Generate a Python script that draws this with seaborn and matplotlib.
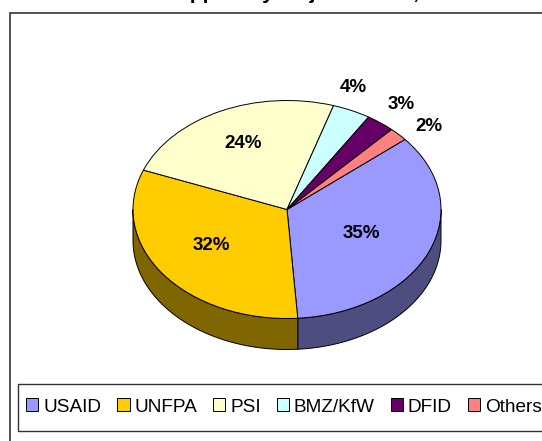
import numpy as np
import pandas as pd
import seaborn as sns
import matplotlib
matplotlib.use("Agg")
import matplotlib.pyplot as plt
from matplotlib.patches import Rectangle

donors = ["USAID", "UNFPA", "PSI", "BMZ/KfW", "DFID", "Others"]
shares = [35, 32, 24, 4, 3, 2]
top_colors = ["#9999FF", "#FFCC00", "#FFFFCC", "#CCFFFF", "#660066", "#FF8080"]
side_colors = ["#4D4D80", "#806600", "#808066", "#668080", "#330033", "#804040"]
title = "Support by major donors,"

sns.set_style("white")
plt.rcParams["font.family"] = ["Liberation Sans", "DejaVu Sans"]
plt.rcParams["text.color"] = "black"

df = pd.DataFrame({"donor": donors, "share": shares})

W, H = 542, 441
cx, cy, rx, ry = 287, 209.5, 154, 109
depth = 31 / ry
start = 40

fig = plt.figure(figsize=(W / 100, H / 100), dpi=100)
ax = fig.add_axes([0, 0, 1, 1])

# frame around the chart, runs off the right side
ax.add_patch(Rectangle((9.5 / W, -0.1), 1, 1 - 12.5 / H + 0.1, transform=ax.transAxes,
                       fc="white", ec="#333333", lw=1.2))
# legend box, also runs off the right side
ax.add_patch(Rectangle((17.5 / W, 1 - 431 / H), 1, 47 / H, transform=ax.transAxes,
                       fc="white", ec="#333333", lw=1.0, zorder=4))

# side wall of the pie
ang = start
for share, col in zip(df["share"], side_colors):
    a0, a1 = ang - share * 3.6, ang
    ang = a0
    for shift in (0, 360):
        t0, t1 = max(a0 + shift, -180), min(a1 + shift, 0)
        if t0 < t1:
            t = np.radians(np.linspace(t0, t1, 80))
            xs = np.r_[np.cos(t), np.cos(t[::-1])]
            ys = np.r_[np.sin(t), np.sin(t[::-1]) - depth]
            ax.fill(xs, ys, fc=col, ec="black", lw=0.7, zorder=2)

wedges, _ = ax.pie(df["share"], colors=top_colors, startangle=start, counterclock=False,
                   wedgeprops={"edgecolor": "black", "linewidth": 0.7, "zorder": 3})
ax.set_aspect("auto")
ax.set_xlim(-cx / rx, (W - cx) / rx)
ax.set_ylim((cy - H) / ry, cy / ry)

# percent labels
label_pos = [(0.48, -0.22), (-0.49, -0.33), (-0.285, 0.61), (0.43, 1.12), (0.74, 0.96), (0.92, 0.76)]
for share, (lx, ly) in zip(shares, label_pos):
    ax.text(lx, ly, f"{share}%", ha="center", va="center", fontsize=13.5, fontweight="bold", zorder=5)

# title is cut by the top of the image, only the descenders show
ax.text(163 / W, 1 + 1 / H, title, transform=ax.transAxes, ha="left", va="baseline",
        fontsize=15, fontweight="bold", clip_on=False)

leg = ax.legend(wedges, donors, ncol=6, loc="center left", bbox_to_anchor=(17.5 / W, 1 - 407 / H),
                bbox_transform=ax.transAxes, fontsize=13.7, frameon=False,
                handlelength=0.66, handleheight=0.66,
                handletextpad=0.25, columnspacing=0.83, borderpad=0.44, borderaxespad=0)
leg.set_zorder(6)
for h in leg.get_patches():
    h.set_linewidth(0.7)

fig.savefig("out.png", dpi=100)
